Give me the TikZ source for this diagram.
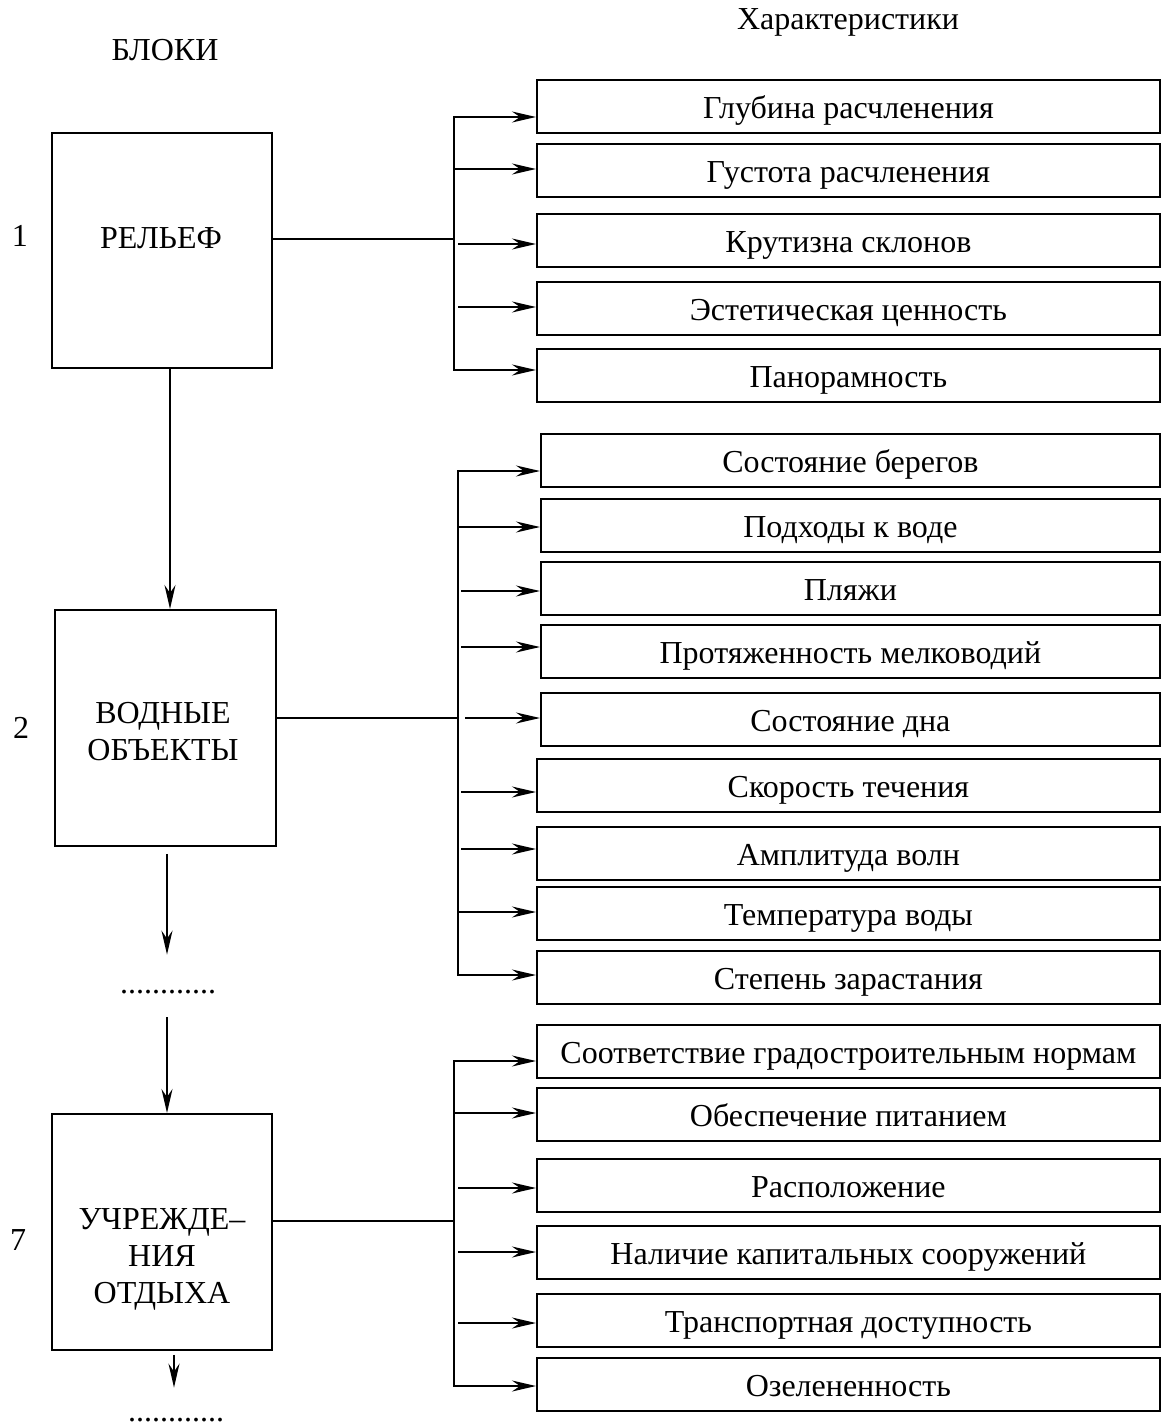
\documentclass[tikz,border=0pt]{standalone}
\usepackage{fontspec}
\setmainfont{Liberation Serif}
\usetikzlibrary{arrows.meta}
\begin{document}
\begin{tikzpicture}[x=1pt,y=-1pt,line width=1.8pt,
  every node/.style={font=\fontsize{32}{37}\selectfont},
  blockbox/.style={draw,rectangle,inner sep=0pt,anchor=north west},
  chbox/.style={draw,rectangle,inner sep=0pt,anchor=north west,minimum height=53pt,
                text height=24pt,text depth=0pt},
  txt/.style={inner sep=0pt,align=center},
  dotsn/.style={inner sep=0pt,anchor=base,text height=0pt,text depth=0pt},
  arr/.style={-{Stealth[length=24pt,width=11pt,inset=8pt]}},
  bus/.style={line cap=rect}]
\useasboundingbox (0,0) rectangle (1160,1426);

% headings
\node[txt] (hblk) at (165,50) {БЛОКИ};
\node[txt] (hchar) at (848,22) {Характеристики};

% block labels
\node[txt] (n1) at (20,236) {1};
\node[txt] (n2) at (21,728) {2};
\node[txt] (n7) at (18,1240) {7};

% blocks
\node[blockbox,minimum width=220pt,minimum height=235pt] (b1) at (51,132) {};
\node[txt] (t1) at (161,238) {РЕЛЬЕФ};
\node[blockbox,minimum width=221pt,minimum height=236pt] (b2) at (54,609) {};
\node[txt] (t2) at (163,732) {ВОДНЫЕ\\ОБЪЕКТЫ};
\node[blockbox,minimum width=220pt,minimum height=236pt] (b7) at (51,1113) {};
\node[txt] (t7) at (162,1259) {УЧРЕЖДЕ–\\НИЯ\\ОТДЫХА};

% dots
\node[dotsn] (d1) at (168,993) {............};
\node[dotsn] (d2) at (176,1421) {............};

% characteristics group 1
\node[chbox,minimum width=623pt] (r1) at (536,79) {Глубина расчленения};
\node[chbox,minimum width=623pt] (r2) at (536,143) {Густота расчленения};
\node[chbox,minimum width=623pt] (r3) at (536,213) {Крутизна склонов};
\node[chbox,minimum width=623pt] (r4) at (536,281) {Эстетическая ценность};
\node[chbox,minimum width=623pt] (r5) at (536,348) {Панорамность};

% characteristics group 2
\node[chbox,minimum width=619pt] (w1) at (540,433) {Состояние берегов};
\node[chbox,minimum width=619pt] (w2) at (540,498) {Подходы к воде};
\node[chbox,minimum width=619pt] (w3) at (540,561) {Пляжи};
\node[chbox,minimum width=619pt] (w4) at (540,624) {Протяженность мелководий};
\node[chbox,minimum width=619pt] (w5) at (540,692) {Состояние дна};
\node[chbox,minimum width=623pt] (w6) at (536,758) {Скорость течения};
\node[chbox,minimum width=623pt] (w7) at (536,826) {Амплитуда волн};
\node[chbox,minimum width=623pt] (w8) at (536,886) {Температура воды};
\node[chbox,minimum width=623pt] (w9) at (536,950) {Степень зарастания};

% characteristics group 3
\node[chbox,minimum width=623pt] (u1) at (536,1024) {Соответствие градостроительным нормам};
\node[chbox,minimum width=623pt] (u2) at (536,1087) {Обеспечение питанием};
\node[chbox,minimum width=623pt] (u3) at (536,1158) {Расположение};
\node[chbox,minimum width=623pt] (u4) at (536,1225) {Наличие капитальных сооружений};
\node[chbox,minimum width=623pt] (u5) at (536,1293) {Транспортная доступность};
\node[chbox,minimum width=623pt] (u6) at (536,1357) {Озелененность};

% vertical flow
\coordinate (vx1) at (170,0);
\coordinate (vx2) at (167,0);
\coordinate (vx3) at (174,0);
\draw[arr] (b1.south -| vx1) -- (b2.north -| vx1);
\draw[arr,shorten <=7pt,shorten >=37pt] (b2.south -| vx2) -- (d1.north -| vx2);
\draw[arr,shorten <=23pt] (d1.south -| vx2) -- (b7.north -| vx2);
\draw[arr,shorten <=4pt,shorten >=32pt] (b7.south -| vx3) -- (d2.north -| vx3);

% group 1 connectors
\coordinate (j1) at (454,239);
\coordinate (j1t) at (454,117);
\coordinate (j1b) at (454,370);
\draw (b1.east |- j1) -- (j1);
\draw[bus] (j1t) -- (j1b);
\draw[arr] (j1t) -- (r1.west |- j1t);
\draw[arr] (454,169) -- (r2.west |- 0,169);
\draw[arr] (458,244) -- (r3.west |- 0,244);
\draw[arr] (458,307) -- (r4.west |- 0,307);
\draw[arr] (j1b) -- (r5.west |- j1b);

% group 2 connectors
\coordinate (j2) at (458,718);
\coordinate (j2t) at (458,471);
\coordinate (j2b) at (458,975);
\draw (b2.east |- j2) -- (j2);
\draw[bus] (j2t) -- (j2b);
\draw[arr] (j2t) -- (w1.west |- j2t);
\draw[arr] (458,527) -- (w2.west |- 0,527);
\draw[arr] (461,591) -- (w3.west |- 0,591);
\draw[arr] (461,647) -- (w4.west |- 0,647);
\draw[arr] (465,718) -- (w5.west |- 0,718);
\draw[arr] (461,792) -- (w6.west |- 0,792);
\draw[arr] (461,849) -- (w7.west |- 0,849);
\draw[arr] (458,912) -- (w8.west |- 0,912);
\draw[arr] (j2b) -- (w9.west |- j2b);

% group 3 connectors
\coordinate (j3) at (454,1221);
\coordinate (j3t) at (454,1061);
\coordinate (j3b) at (454,1386);
\draw (b7.east |- j3) -- (j3);
\draw[bus] (j3t) -- (j3b);
\draw[arr] (j3t) -- (u1.west |- j3t);
\draw[arr] (454,1113) -- (u2.west |- 0,1113);
\draw[arr] (458,1188) -- (u3.west |- 0,1188);
\draw[arr] (458,1252) -- (u4.west |- 0,1252);
\draw[arr] (458,1323) -- (u5.west |- 0,1323);
\draw[arr] (j3b) -- (u6.west |- j3b);
\end{tikzpicture}
\end{document}
